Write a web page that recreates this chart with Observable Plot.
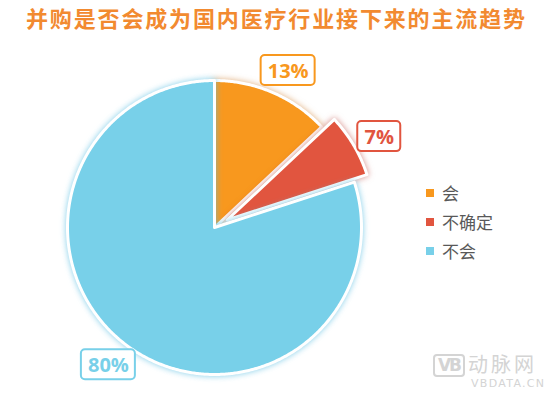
<!DOCTYPE html>
<html>
<head>
<meta charset="utf-8">
<script src="https://cdn.jsdelivr.net/npm/d3@7"></script>
<script src="https://cdn.jsdelivr.net/npm/@observablehq/plot@0.6"></script>
<style>
  html, body { margin: 0; padding: 0; background: #fff; }
  #wrap { position: relative; width: 552px; height: 398px; overflow: hidden; font-family: "Noto Sans CJK SC", sans-serif; }
  #title { position: absolute; left: 26px; top: 4px; white-space: nowrap; font-size: 22px; line-height: 26px; font-weight: bold; color: #F28A30; letter-spacing: 1.85px; }
  #chart { position: absolute; left: 0; top: 0; }
  #legend { position: absolute; left: 426px; top: 178px; }
  .li { height: 29px; display: flex; align-items: center; font-size: 17px; color: #595959; }
  .sw { width: 8px; height: 8px; margin-right: 8px; }
  #wm { position: absolute; left: 433px; top: 354px; color: #D4D4D4; }
  #wm .logo { position: absolute; left: 0; top: 0; width: 28px; height: 19px; border: 2px solid #D4D4D4; border-radius: 4px; font: bold 17px "DejaVu Sans", sans-serif; text-align: center; line-height: 19px; letter-spacing: -2px; }
  #wm .cn { position: absolute; left: 35px; top: 0px; font-size: 20px; letter-spacing: 3px; white-space: nowrap; line-height: 20px; }
  #wm .en { position: absolute; left: 38px; top: 24px; font: 11px "DejaVu Sans", sans-serif; letter-spacing: 1.3px; white-space: nowrap; line-height: 11px; }
</style>
</head>
<body>
<div id="wrap">
  <div id="chart"></div>
  <div id="title"></div>
  <div id="legend"></div>
  <div id="wm"><div class="logo">VB</div><div class="cn">动脉网</div><div class="en">VBDATA.CN</div></div>
</div>
<script>
const titleText = "并购是否会成为国内医疗行业接下来的主流趋势";
const categories = ["会", "不确定", "不会"];
const values = [13, 7, 80];
const labels = ["13%", "7%", "80%"];
const colors = ["#F8981E", "#E1553F", "#78D0E9"];
const explodedCategory = "不确定";

document.getElementById("title").textContent = titleText;

const total = d3.sum(values);
let acc = 0;
const slices = categories.map((c, i) => {
  const a0 = acc / total * 2 * Math.PI;
  acc += values[i];
  const a1 = acc / total * 2 * Math.PI;
  const mid = (a0 + a1) / 2;
  const off = c === explodedCategory ? 0.1 : 0;
  const cx = off * Math.sin(mid), cy = off * Math.cos(mid);
  const pts = [{x: cx, y: cy}];
  const n = Math.max(2, Math.ceil((a1 - a0) / (Math.PI / 360)));
  for (let k = 0; k <= n; k++) {
    const a = a0 + (a1 - a0) * k / n;
    pts.push({x: cx + Math.sin(a), y: cy + Math.cos(a)});
  }
  const lr = 1.18 + off;
  return {cat: c, color: colors[i], label: labels[i], pts,
          lx: lr * Math.sin(mid + 0.03), ly: lr * Math.cos(mid + 0.03)};
});

const R = 147, CX = 214, CY = 227;
const pxw = px => px / R;

const marks = [];
slices.forEach(s => {
  marks.push(Plot.line(s.pts, {x: "x", y: "y", curve: "linear-closed", fill: s.color, stroke: "white", strokeWidth: 3, strokeLinejoin: "round"}));
});
marks.push(Plot.rect(slices, {
  x1: d => d.lx - pxw(11 * d.label.length + 21) / 2,
  x2: d => d.lx + pxw(11 * d.label.length + 21) / 2,
  y1: d => d.ly - pxw(30) / 2,
  y2: d => d.ly + pxw(30) / 2,
  fill: "white", stroke: d => d.color, strokeWidth: 2, rx: 4
}));
marks.push(Plot.text(slices, {x: "lx", y: "ly", text: "label", fill: d => d.color, fontSize: 20, fontWeight: "bold", fontFamily: "Open Sans, sans-serif", dy: 1}));

const plot = Plot.plot({
  width: 552, height: 398,
  margin: 0,
  x: {domain: [-1, 1], range: [CX - R, CX + R], axis: null},
  y: {domain: [-1, 1], range: [CY + R, CY - R], axis: null},
  style: {background: "transparent", overflow: "visible"},
  marks
});
const glow = ["rgba(200,110,20,0.55)", "rgba(180,50,40,0.55)", "rgba(90,190,225,0.75)"];
d3.select(plot).selectAll('g[aria-label="line"]').each(function(_, i) {
  d3.select(this).style("filter", `drop-shadow(0 0 3px ${glow[i]})`);
});
document.getElementById("chart").appendChild(plot);

const leg = d3.select("#legend");
categories.forEach((c, i) => {
  const row = leg.append("div").attr("class", "li");
  row.append("div").attr("class", "sw").style("background", colors[i]);
  row.append("span").text(c);
});
</script>
</body>
</html>
